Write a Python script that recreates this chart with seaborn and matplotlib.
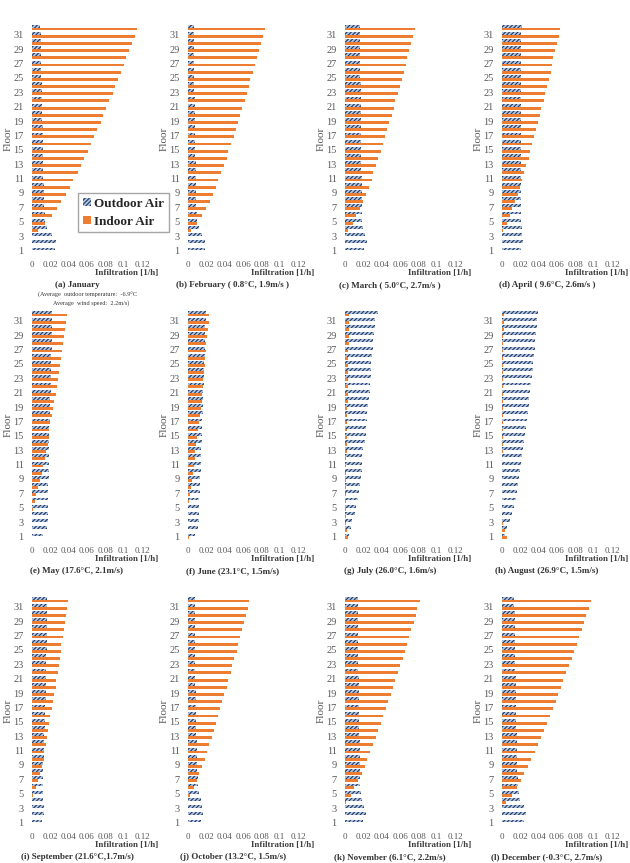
import pandas as pd
import seaborn as sns
import matplotlib.pyplot as plt
from matplotlib.patches import Patch

floors = list(range(1, 33))

captions = ["(a) January", "(b) February ( 0.8°C, 1.9m/s )", "(c) March ( 5.0°C, 2.7m/s )",
            "(d) April ( 9.6°C, 2.6m/s )", "(e) May (17.6°C, 2.1m/s)", "(f) June (23.1°C, 1.5m/s)",
            "(g) July (26.0°C, 1.6m/s)", "(h) August (26.9°C, 1.5m/s)", "(i) September (21.6°C,1.7m/s)",
            "(j) October (13.2°C, 1.5m/s)", "(k) November (6.1°C, 2.2m/s)", "(l) December (-0.3°C, 2.7m/s)"]

# valores, andar 1 -> 32
out_jan = [0.0255, 0.0265, 0.022, 0.016, 0.0145, 0.014, 0.0135, 0.013, 0.013, 0.013, 0.0125, 0.0125, 0.012, 0.012, 0.012, 0.0115,
           0.0115, 0.0115, 0.011, 0.011, 0.011, 0.0105, 0.0105, 0.0105, 0.010, 0.010, 0.010, 0.010, 0.0095, 0.0095, 0.0095, 0.009]
in_jan = [0, 0, 0, 0.0065, 0.0145, 0.022, 0.027, 0.032, 0.037, 0.041, 0.045, 0.050, 0.053, 0.057, 0.061, 0.064,
          0.068, 0.071, 0.075, 0.078, 0.081, 0.084, 0.088, 0.091, 0.094, 0.097, 0.100, 0.103, 0.106, 0.109, 0.112, 0.1145]

out_feb = [0.018, 0.019, 0.0155, 0.0115, 0.010, 0.0095, 0.009, 0.009, 0.009, 0.009, 0.0085, 0.0085, 0.0085, 0.008, 0.008, 0.008,
           0.008, 0.008, 0.0075, 0.0075, 0.0075, 0.0075, 0.007, 0.007, 0.007, 0.007, 0.007, 0.0065, 0.0065, 0.0065, 0.0065, 0.0065]
in_feb = [0, 0, 0, 0.0035, 0.010, 0.0155, 0.020, 0.0235, 0.027, 0.0305, 0.033, 0.036, 0.039, 0.042, 0.044, 0.047,
          0.050, 0.052, 0.0545, 0.057, 0.059, 0.062, 0.064, 0.066, 0.068, 0.071, 0.073, 0.075, 0.0775, 0.080, 0.082, 0.0835]

out_mar = [0.021, 0.0235, 0.022, 0.020, 0.019, 0.019, 0.018, 0.018, 0.018, 0.018, 0.018, 0.0178, 0.0178, 0.0176, 0.0176, 0.0175,
           0.0175, 0.0174, 0.0173, 0.0172, 0.0172, 0.017, 0.017, 0.017, 0.0168, 0.0168, 0.0167, 0.0166, 0.0166, 0.0165, 0.0164, 0.0164]
in_mar = [0, 0, 0, 0.0035, 0.0085, 0.0125, 0.0165, 0.020, 0.023, 0.026, 0.029, 0.031, 0.034, 0.036, 0.039, 0.041,
          0.044, 0.046, 0.048, 0.051, 0.053, 0.055, 0.0575, 0.060, 0.062, 0.064, 0.066, 0.068, 0.070, 0.072, 0.0745, 0.0765]

out_apr = [0.0205, 0.023, 0.022, 0.0215, 0.021, 0.021, 0.0205, 0.021, 0.0205, 0.021, 0.021, 0.021, 0.0205, 0.021, 0.021, 0.021,
           0.021, 0.0212, 0.021, 0.0212, 0.021, 0.0212, 0.0212, 0.021, 0.0212, 0.0212, 0.0212, 0.021, 0.0212, 0.0212, 0.0212, 0.0215]
in_apr = [0, 0, 0, 0.001, 0.0055, 0.0085, 0.011, 0.0145, 0.0175, 0.020, 0.022, 0.024, 0.0265, 0.029, 0.031, 0.033,
          0.035, 0.037, 0.039, 0.041, 0.043, 0.0455, 0.047, 0.049, 0.051, 0.053, 0.0545, 0.056, 0.058, 0.060, 0.062, 0.0635]

out_may = [0.0125, 0.016, 0.017, 0.017, 0.017, 0.017, 0.0175, 0.0175, 0.018, 0.018, 0.018, 0.018, 0.0185, 0.0185, 0.019, 0.019,
           0.0195, 0.0195, 0.020, 0.020, 0.0205, 0.0205, 0.021, 0.021, 0.021, 0.0212, 0.0215, 0.0215, 0.022, 0.022, 0.022, 0.022]
in_may = [0, 0, 0, 0, 0.001, 0.003, 0.0045, 0.006, 0.009, 0.0105, 0.012, 0.014, 0.015, 0.017, 0.018, 0.019,
          0.020, 0.022, 0.023, 0.0245, 0.026, 0.027, 0.028, 0.0295, 0.0305, 0.032, 0.033, 0.034, 0.0345, 0.036, 0.0375, 0.038]

out_jun = [0.008, 0.011, 0.012, 0.012, 0.012, 0.0125, 0.013, 0.013, 0.0135, 0.0138, 0.014, 0.014, 0.0145, 0.015, 0.015, 0.0155,
           0.0155, 0.016, 0.016, 0.0165, 0.0165, 0.017, 0.017, 0.0175, 0.0175, 0.018, 0.018, 0.0185, 0.0185, 0.019, 0.0195, 0.0195]
in_jun = [0.001, 0, 0, 0, 0, 0.001, 0.002, 0.003, 0.0045, 0.0055, 0.006, 0.0073, 0.008, 0.009, 0.010, 0.011,
          0.0124, 0.013, 0.0138, 0.015, 0.0156, 0.016, 0.0167, 0.0175, 0.018, 0.019, 0.0196, 0.020, 0.021, 0.022, 0.0225, 0.023]

out_jul = [0.004, 0.006, 0.008, 0.011, 0.012, 0.014, 0.015, 0.016, 0.0175, 0.018, 0.019, 0.019, 0.020, 0.022, 0.0225, 0.023,
           0.0236, 0.024, 0.025, 0.026, 0.027, 0.027, 0.028, 0.028, 0.0287, 0.0295, 0.0305, 0.031, 0.032, 0.0327, 0.033, 0.0355]
in_jul = [0.003, 0.002, 0.001, 0.001, 0.001, 0.001, 0.001, 0.001, 0.001, 0.001, 0.0015, 0.0015, 0.002, 0.002, 0.002, 0.002,
          0.0025, 0.0025, 0.0025, 0.003, 0.003, 0.003, 0.003, 0.0035, 0.0035, 0.0035, 0.0035, 0.004, 0.004, 0.004, 0.004, 0.0045]

out_aug = [0.0035, 0.0055, 0.0085, 0.011, 0.013, 0.015, 0.016, 0.0175, 0.019, 0.020, 0.021, 0.022, 0.023, 0.0245, 0.025, 0.0265,
           0.027, 0.028, 0.029, 0.030, 0.031, 0.032, 0.0327, 0.0335, 0.034, 0.035, 0.0355, 0.036, 0.0375, 0.038, 0.0385, 0.039]
in_aug = [0.005, 0.003, 0.001, 0.0005, 0.0005, 0.0005, 0.0005, 0.0005, 0.0005, 0.0005, 0.0005, 0.0005, 0.001, 0.001, 0.001, 0.001,
          0.001, 0.001, 0.001, 0.001, 0.001, 0.0015, 0.0015, 0.0015, 0.0015, 0.0015, 0.0015, 0.0015, 0.0015, 0.002, 0.002, 0.002]

out_sep = [0.011, 0.0135, 0.013, 0.0125, 0.012, 0.012, 0.012, 0.0125, 0.0125, 0.0127, 0.013, 0.0135, 0.0135, 0.014, 0.014, 0.0145,
           0.0145, 0.015, 0.015, 0.015, 0.0152, 0.0155, 0.0155, 0.0157, 0.016, 0.016, 0.016, 0.0162, 0.0162, 0.0164, 0.0164, 0.0165]
in_sep = [0, 0, 0, 0, 0.001, 0.004, 0.0065, 0.0085, 0.0105, 0.0127, 0.0135, 0.015, 0.0165, 0.0175, 0.019, 0.020,
          0.022, 0.023, 0.0245, 0.026, 0.0265, 0.028, 0.029, 0.0305, 0.0315, 0.032, 0.0335, 0.0345, 0.036, 0.037, 0.038, 0.039]

out_oct = [0.0145, 0.0165, 0.0155, 0.0138, 0.0115, 0.011, 0.0105, 0.010, 0.010, 0.010, 0.0095, 0.0095, 0.009, 0.009, 0.009, 0.0088,
           0.0087, 0.0085, 0.0083, 0.008, 0.008, 0.008, 0.0078, 0.0078, 0.0077, 0.0076, 0.0075, 0.0075, 0.0074, 0.0074, 0.0073, 0.0073]
in_oct = [0, 0, 0, 0, 0.002, 0.006, 0.010, 0.0125, 0.0155, 0.018, 0.0205, 0.023, 0.026, 0.028, 0.0305, 0.0325,
          0.035, 0.0375, 0.0395, 0.042, 0.044, 0.0465, 0.0485, 0.0505, 0.053, 0.055, 0.057, 0.059, 0.061, 0.063, 0.065, 0.067]

out_nov = [0.020, 0.023, 0.0205, 0.018, 0.017, 0.0165, 0.016, 0.0162, 0.0165, 0.0164, 0.016, 0.016, 0.0158, 0.0156, 0.0155, 0.0154,
           0.0153, 0.0152, 0.015, 0.015, 0.0148, 0.0147, 0.0146, 0.0145, 0.0144, 0.0143, 0.0142, 0.0141, 0.014, 0.014, 0.0139, 0.0138]
in_nov = [0, 0, 0, 0.001, 0.006, 0.010, 0.0145, 0.018, 0.0215, 0.0245, 0.0275, 0.0305, 0.0335, 0.036, 0.039, 0.0415,
          0.0445, 0.047, 0.050, 0.0525, 0.055, 0.0575, 0.060, 0.063, 0.0655, 0.0675, 0.070, 0.0725, 0.075, 0.0775, 0.079, 0.082]

out_dec = [0.0245, 0.0265, 0.0235, 0.020, 0.0185, 0.0175, 0.017, 0.0168, 0.0166, 0.0164, 0.0162, 0.016, 0.016, 0.0158, 0.0156, 0.0155,
           0.0154, 0.0152, 0.015, 0.015, 0.0148, 0.0146, 0.0145, 0.0144, 0.0142, 0.0141, 0.014, 0.0139, 0.0138, 0.0137, 0.0136, 0.0135]
in_dec = [0, 0, 0, 0.0045, 0.0105, 0.0165, 0.0205, 0.0245, 0.0285, 0.032, 0.036, 0.039, 0.0425, 0.046, 0.049, 0.0525,
          0.0555, 0.0585, 0.0615, 0.064, 0.067, 0.070, 0.073, 0.076, 0.079, 0.0815, 0.084, 0.087, 0.0895, 0.092, 0.095, 0.0975]

outdoor = [out_jan, out_feb, out_mar, out_apr, out_may, out_jun, out_jul, out_aug, out_sep, out_oct, out_nov, out_dec]
indoor = [in_jan, in_feb, in_mar, in_apr, in_may, in_jun, in_jul, in_aug, in_sep, in_oct, in_nov, in_dec]

sns.set_style("white")
plt.rcParams['font.family'] = ['Liberation Serif', 'DejaVu Serif']
plt.rcParams['hatch.linewidth'] = 0.8

W, H = 630, 863
col_left = [32, 188, 345, 502]
row_top = [24, 310, 596]
ax_w, ax_h = 110, 230
gray = '#595959'
navy = '#1F3864'
orange = '#ED7D31'
light_blue = '#b4c5de'
hatch = '////////'

fig = plt.figure(figsize=(W / 100, H / 100), dpi=100)

for i in range(12):
    r, c = divmod(i, 4)
    x0, y0 = col_left[c], row_top[r]
    ax = fig.add_axes([x0 / W, 1 - (y0 + ax_h) / H, ax_w / W, ax_h / H])

    df = pd.DataFrame({
        'Floor': floors + floors,
        'Infiltration': outdoor[i] + indoor[i],
        'Series': ['Outdoor Air'] * 32 + ['Indoor Air'] * 32,
    })
    sns.barplot(data=df, x='Infiltration', y='Floor', hue='Series', orient='h',
                order=floors[::-1], hue_order=['Outdoor Air', 'Indoor Air'],
                palette={'Outdoor Air': light_blue, 'Indoor Air': orange},
                width=0.8, saturation=1, errorbar=None, legend=False,
                linewidth=0, ax=ax)

    # padrao hachurado nas barras de ar externo
    for bar in ax.containers[0]:
        bar.set_hatch(hatch)
        bar.set_edgecolor(navy)
        bar.set_linewidth(0)
    for bar in ax.patches:
        bar.set_snap(True)

    ax.set_xlim(0, 0.12)
    ax.set_xticks([0, 0.02, 0.04, 0.06, 0.08, 0.1, 0.12])
    ax.set_xticklabels(['0', '0.02', '0.04', '0.06', '0.08', '0.1', '0.12'])
    ax.set_yticks(range(1, 32, 2))
    ax.set_yticklabels([str(f) for f in range(31, 0, -2)])
    ax.tick_params(axis='x', length=0, pad=5, labelsize=6.5, labelcolor=gray)
    ax.tick_params(axis='y', length=0, pad=6, labelsize=7.5, labelcolor=gray)
    for s in ax.spines.values():
        s.set_visible(False)

    ax.set_xlabel('')
    ax.set_ylabel('Floor', fontsize=8, color=gray)
    ax.yaxis.set_label_coords(-19 / ax_w, 0.5)
    ax.text(126 / ax_w, -19 / ax_h, 'Infiltration [1/h]', transform=ax.transAxes,
            ha='right', va='center', fontsize=6.5, fontweight='bold', color='#404040')

    cap_y = y0 + ax_h + 31
    fig.text((x0 + 45) / W, 1 - cap_y / H, captions[i], ha='center', va='center',
             fontsize=6.5, fontweight='bold', color='#333333')

# notas do mes de janeiro
fig.text(88 / W, 1 - 295 / H, '(Average  outdoor temperature:  -6.9°C', ha='center', va='center',
         fontsize=4.5, color='#333333')
fig.text(91 / W, 1 - 303 / H, 'Average  wind speed:  2.2m/s)', ha='center', va='center',
         fontsize=4.5, color='#333333')

handles = [Patch(facecolor=light_blue, edgecolor=navy, hatch=hatch, linewidth=0),
           Patch(facecolor=orange, edgecolor=orange, linewidth=0)]
fig.legend(handles, ['Outdoor Air', 'Indoor Air'], loc='upper left',
           bbox_to_anchor=(78 / W, 1 - 193 / H), borderaxespad=0,
           frameon=True, fancybox=False, edgecolor='#a6a6a6', framealpha=1,
           handlelength=0.6, handleheight=0.6, handletextpad=0.3,
           borderpad=0.35, labelspacing=0.45,
           prop={'family': 'Liberation Serif', 'weight': 'bold', 'size': 9.5})

plt.savefig('out.png', dpi=100)
plt.close()
